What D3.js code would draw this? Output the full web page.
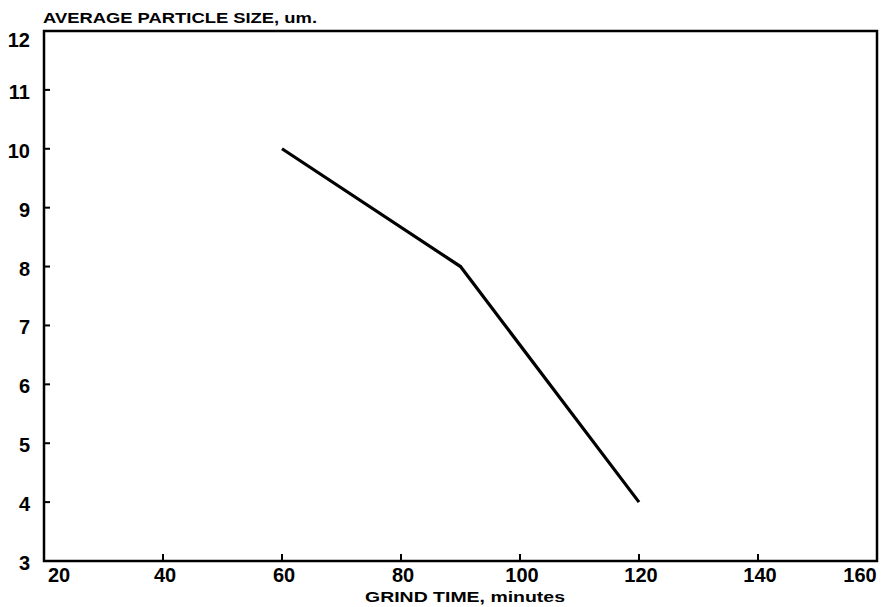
<!DOCTYPE html>
<html>
<head>
<meta charset="utf-8">
<script src="https://cdn.jsdelivr.net/npm/d3@7"></script>
<style>
  body { margin: 0; background: #fff; }
  text { font-family: "Liberation Sans", Arial, sans-serif; font-weight: bold; fill: #000; }
</style>
</head>
<body>
<svg id="chart" width="883" height="607"></svg>
<script>
// grind time (minutes) vs average particle size (um)
const grindTime = [60, 90, 120];
const particleSize = [10, 8, 4];
const xTicks = [20, 40, 60, 80, 100, 120, 140, 160];
const yTicks = [3, 4, 5, 6, 7, 8, 9, 10, 11, 12];

const svg = d3.select("#chart");
const plotL = 44, plotR = 877, plotT = 31, plotB = 561;

const x = d3.scaleLinear().domain([20, 160]).range([plotL, plotR]);
const y = d3.scaleLinear().domain([3, 12]).range([plotB, plotT]);

// frame
svg.append("rect")
  .attr("x", plotL).attr("y", plotT)
  .attr("width", plotR - plotL).attr("height", plotB - plotT)
  .attr("fill", "none").attr("stroke", "#000").attr("stroke-width", 2.5);

// y ticks + labels
const yAxis = svg.append("g");
yAxis.selectAll("line").data(yTicks.slice(1, -1)).join("line")
  .attr("x1", plotL).attr("x2", plotL + 6)
  .attr("y1", d => y(d)).attr("y2", d => y(d))
  .attr("stroke", "#000").attr("stroke-width", 2);
yAxis.selectAll("text").data(yTicks).join("text")
  .attr("x", 30).attr("y", d => y(d) + (d === 12 ? 16 : 9))
  .attr("text-anchor", "end")
  .attr("font-size", 20)
  .text(d => d);

// x ticks + labels
const xAxis = svg.append("g");
xAxis.selectAll("line").data(xTicks.slice(1, -1)).join("line")
  .attr("x1", d => x(d)).attr("x2", d => x(d))
  .attr("y1", plotB).attr("y2", plotB - 7)
  .attr("stroke", "#000").attr("stroke-width", 2);
xAxis.selectAll("text").data(xTicks).join("text")
  .attr("x", (d, i) => x(d) + (i === 0 ? 15 : i === xTicks.length - 1 ? -17 : 2))
  .attr("y", 582)
  .attr("text-anchor", "middle")
  .attr("font-size", 20)
  .text(d => d);

// titles
svg.append("text")
  .attr("x", 43).attr("y", 23)
  .attr("font-size", 14)
  .attr("textLength", 274).attr("lengthAdjust", "spacingAndGlyphs")
  .text("AVERAGE  PARTICLE  SIZE,  um.");
svg.append("text")
  .attr("x", 365).attr("y", 602)
  .attr("font-size", 15)
  .attr("textLength", 200).attr("lengthAdjust", "spacingAndGlyphs")
  .text("GRIND  TIME,  minutes");

// the curve
const line = d3.line()
  .x((d, i) => x(grindTime[i]))
  .y(d => y(d));
svg.append("path")
  .datum(particleSize)
  .attr("d", line)
  .attr("fill", "none")
  .attr("stroke", "#000")
  .attr("stroke-width", 3.2);
</script>
</body>
</html>
